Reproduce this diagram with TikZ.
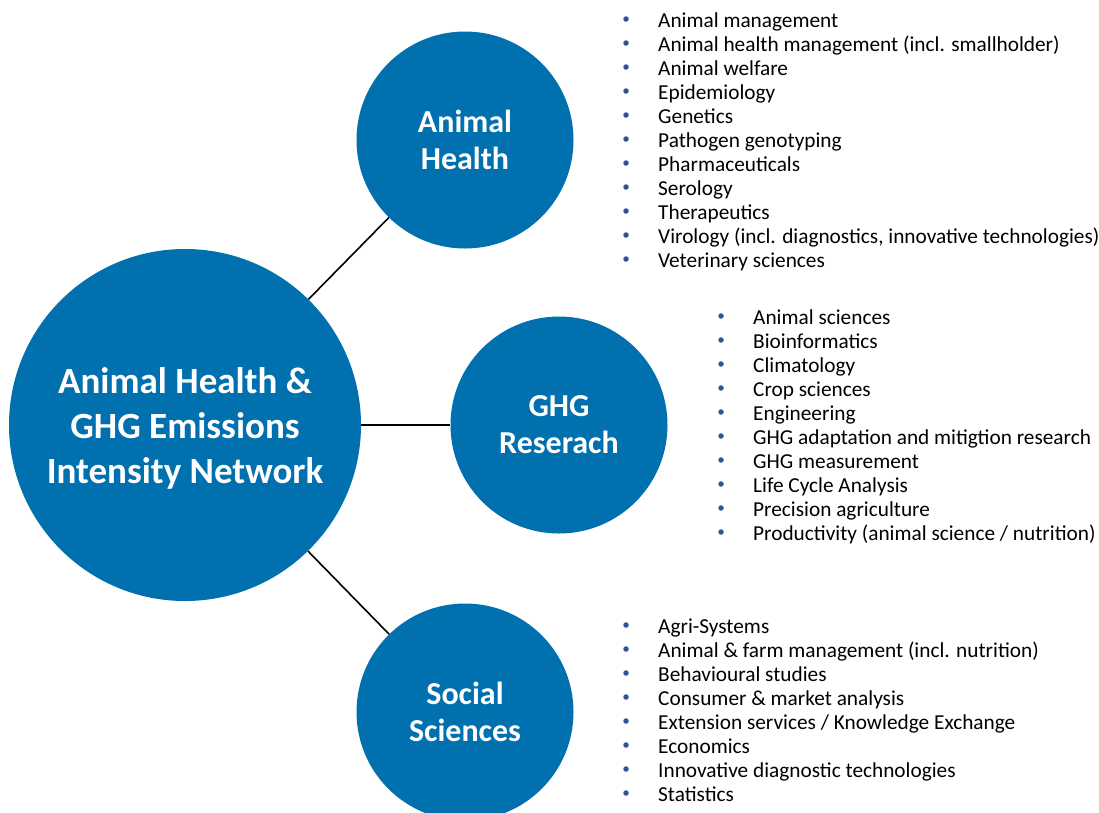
\documentclass[tikz,border=0pt]{standalone}
\usepackage{fontspec}
\setmainfont{Carlito}
\definecolor{hub}{HTML}{0070AE}
\definecolor{dot}{HTML}{2F5597}
\begin{document}
\begin{tikzpicture}[x=1pt,y=-1pt,
  bigc/.style={circle,fill=hub,minimum size=352pt,inner sep=0pt,text=white,font=\bfseries\fontsize{37}{45}\selectfont,align=center},
  smallc/.style={circle,fill=hub,minimum size=217pt,inner sep=0pt,text=white,font=\bfseries\fontsize{32}{37}\selectfont,align=center},
  link/.style={draw=black,line width=1.6pt},
  item/.style={anchor=west,inner sep=0pt,text height=14pt,text depth=5pt,font=\fontsize{21.3}{21}\selectfont,text=black},
  bul/.style={circle,fill=dot,inner sep=0pt,minimum size=5.5pt}]
\useasboundingbox (0,0) rectangle (1099,812);
\node[bigc] (main) at (185,425) {};
\node[text=white,font=\bfseries\fontsize{37}{45}\selectfont,align=center] (maintxt) at (185,428) {Animal Health \&\\GHG Emissions\\Intensity Network};
\node[smallc] (ah) at (465,140) {Animal\\Health};
\node[smallc] (ghg) at (559,425) {GHG\\Reserach};
\node[smallc] (ss) at (465,712) {Social\\Sciences};
\draw[link] (main) -- (ah);
\draw[link] (main) -- (ghg);
\draw[link] (main) -- (ss);
\foreach \t [count=\i] in {Animal management,Animal health management (incl. smallholder),Animal welfare,Epidemiology,Genetics,Pathogen genotyping,Pharmaceuticals,Serology,Therapeutics,{Virology (incl. diagnostics, innovative technologies)},Veterinary sciences}{
  \node[bul] (ahb\i) at (626,{19+24*(\i-1)}) {};
  \node[item] (aht\i) at (658,{22.5+24*(\i-1)}) {\t};
}
\foreach \t [count=\i] in {Animal sciences,Bioinformatics,Climatology,Crop sciences,Engineering,GHG adaptation and mitigtion research,GHG measurement,Life Cycle Analysis,Precision agriculture,Productivity (animal science / nutrition)}{
  \node[bul] (gb\i) at (721,{316+24*(\i-1)}) {};
  \node[item] (gt\i) at (753,{319.5+24*(\i-1)}) {\t};
}
\foreach \t [count=\i] in {Agri-Systems,Animal \& farm management (incl. nutrition),Behavioural studies,Consumer \& market analysis,Extension services / Knowledge Exchange,Economics,Innovative diagnostic technologies,Statistics}{
  \node[bul] (sb\i) at (626,{625+24*(\i-1)}) {};
  \node[item] (st\i) at (658,{628.5+24*(\i-1)}) {\t};
}
\end{tikzpicture}
\end{document}
